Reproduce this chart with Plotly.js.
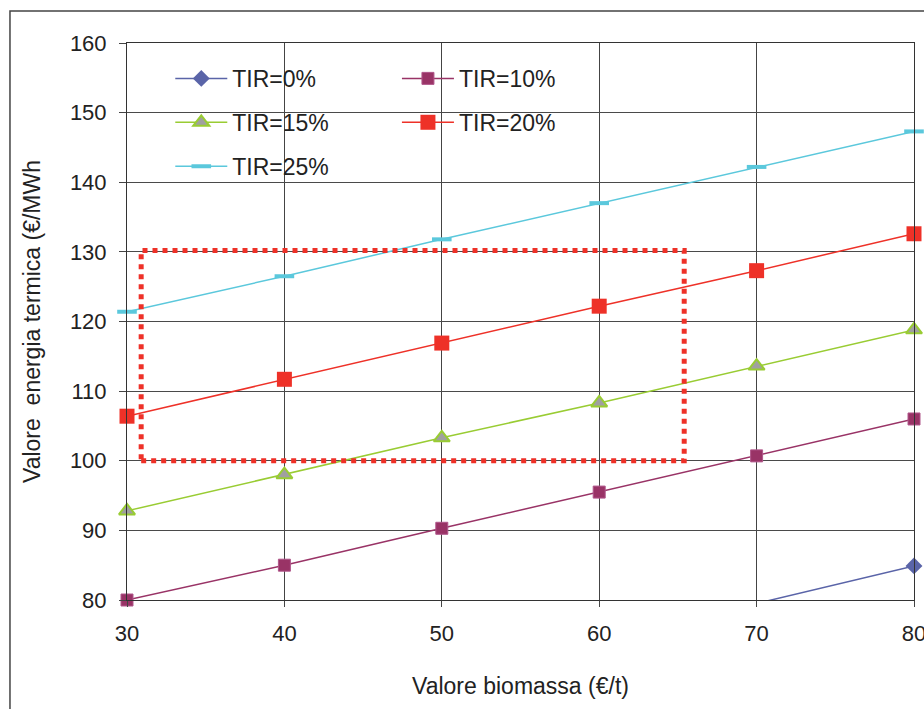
<!DOCTYPE html>
<html>
<head>
<meta charset="utf-8">
<script src="https://cdn.plot.ly/plotly-3.0.1.min.js"></script>
<style>html,body{margin:0;padding:0;background:#fff;} #chart{width:924px;height:709px;}</style>
</head>
<body>
<div id="chart"></div>
<script>
const biomassa = [30, 40, 50, 60, 70, 80];
const tir0  = [59.0, 64.2, 69.4, 74.5, 79.5, 84.9];
const tir10 = [80.0, 85.0, 90.3, 95.5, 100.7, 106.0];
const tir15 = [92.8, 98.0, 103.3, 108.3, 113.6, 118.8];
const tir20 = [106.4, 111.7, 116.9, 122.2, 127.3, 132.6];
const tir25 = [121.4, 126.5, 131.8, 137.0, 142.2, 147.3];
const seriesNames = ['TIR=0%', 'TIR=10%', 'TIR=15%', 'TIR=20%', 'TIR=25%'];
const xTicks = [30, 40, 50, 60, 70, 80];
const yTicks = [80, 90, 100, 110, 120, 130, 140, 150, 160];
const boxX = [30.9, 65.4];
const boxY = [100, 130.2];
const yRange = [80, 160];

const font = 'Liberation Sans, Arial, sans-serif';

// TIR=0% points that fall inside the visible value range (markers drawn unclipped like the original)
const vis0 = biomassa.map((x, i) => [x, tir0[i]]).filter(p => p[1] >= yRange[0]);

const traces = [
  {x: biomassa, y: tir0, name: seriesNames[0], legend: 'legend', legendgroup: 'a',
   mode: 'lines', line: {color: '#5A64A8', width: 1.5}, cliponaxis: true,
   marker: {symbol: 'diamond', size: 13, color: '#5A64A8'}, showlegend: false},
  {x: vis0.map(p => p[0]), y: vis0.map(p => p[1]), name: seriesNames[0], legend: 'legend', legendgroup: 'a',
   mode: 'lines+markers', line: {color: '#5A64A8', width: 1.5}, cliponaxis: false,
   marker: {symbol: 'diamond', size: 13, color: '#5A64A8'}},
  {x: biomassa, y: tir10, name: seriesNames[1], legend: 'legend2', legendgroup: 'b',
   mode: 'lines+markers', line: {color: '#993366', width: 1.5}, cliponaxis: false,
   marker: {symbol: 'square', size: 12, color: '#993366', line: {color: '#B0568A', width: 1}}},
  {x: biomassa, y: tir15, name: seriesNames[2], legend: 'legend', legendgroup: 'c',
   mode: 'lines+markers', line: {color: '#99CC33', width: 1.5}, cliponaxis: false,
   marker: {symbol: 'triangle-up', size: 14, color: '#A0A0A0', line: {color: '#99CC33', width: 2}}},
  {x: biomassa, y: tir20, name: seriesNames[3], legend: 'legend2', legendgroup: 'd',
   mode: 'lines+markers', line: {color: '#EE3128', width: 1.5}, cliponaxis: false,
   marker: {symbol: 'square', size: 15, color: '#EE3128'}},
  {x: biomassa, y: tir25, name: seriesNames[4], legend: 'legend', legendgroup: 'e',
   mode: 'lines+markers', line: {color: '#5BC8DC', width: 1.5}, cliponaxis: false,
   marker: {symbol: 'line-ew', size: 14, color: '#5BC8DC', line: {color: '#5BC8DC', width: 4}}}
];

const legendCommon = {
  orientation: 'v', bgcolor: 'rgba(0,0,0,0)', borderwidth: 0,
  font: {family: font, size: 23, color: '#222'},
  itemwidth: 52, tracegroupgap: 11, traceorder: 'grouped',
  xanchor: 'left', yanchor: 'top'
};

const layout = {
  width: 924, height: 709,
  margin: {l: 127, r: 10, t: 43, b: 109},
  paper_bgcolor: '#fff', plot_bgcolor: '#fff',
  font: {family: font, color: '#222'},
  showlegend: true,
  legend: Object.assign({}, legendCommon, {x: 0.055, y: 0.975}),
  legend2: Object.assign({}, legendCommon, {x: 0.343, y: 0.975}),
  xaxis: {
    range: [30, 80], tickvals: xTicks, ticktext: xTicks.map(String),
    showgrid: true, gridcolor: '#444', gridwidth: 1,
    showline: true, mirror: true, linecolor: '#333', linewidth: 1,
    ticks: 'outside', ticklen: 6, tickcolor: '#444',
    tickfont: {family: font, size: 22, color: '#222'}, ticklabelstandoff: 8,
    ticklabeloverflow: 'allow',
    zeroline: false,
    title: {text: 'Valore biomassa (€/t)', font: {family: font, size: 23, color: '#222'}, standoff: 32}
  },
  yaxis: {
    range: yRange, tickvals: yTicks, ticktext: yTicks.map(String),
    showgrid: true, gridcolor: '#4a4a4a', gridwidth: 1,
    showline: true, mirror: true, linecolor: '#333', linewidth: 1,
    ticks: 'outside', ticklen: 7, tickcolor: '#444',
    tickfont: {family: font, size: 22, color: '#222'}, ticklabelstandoff: 8,
    ticklabeloverflow: 'allow',
    zeroline: false,
    title: {text: 'Valore  energia termica (€/MWh', font: {family: font, size: 23, color: '#222'}, standoff: 22}
  },
  shapes: [
    {type: 'rect', xref: 'x', yref: 'y', x0: boxX[0], x1: boxX[1], y0: boxY[0], y1: boxY[1],
     line: {color: '#EE3128', width: 5, dash: '5px,5px'}, fillcolor: 'rgba(0,0,0,0)', layer: 'above'},
    {type: 'rect', xref: 'paper', yref: 'paper', x0: -0.1487, x1: 1.05, y0: -0.3, y1: 1.0575,
     line: {color: '#444', width: 1.5}, fillcolor: 'rgba(0,0,0,0)', layer: 'below'}
  ]
};

Plotly.newPlot('chart', traces, layout, {displayModeBar: false, staticPlot: true});
</script>
</body>
</html>
